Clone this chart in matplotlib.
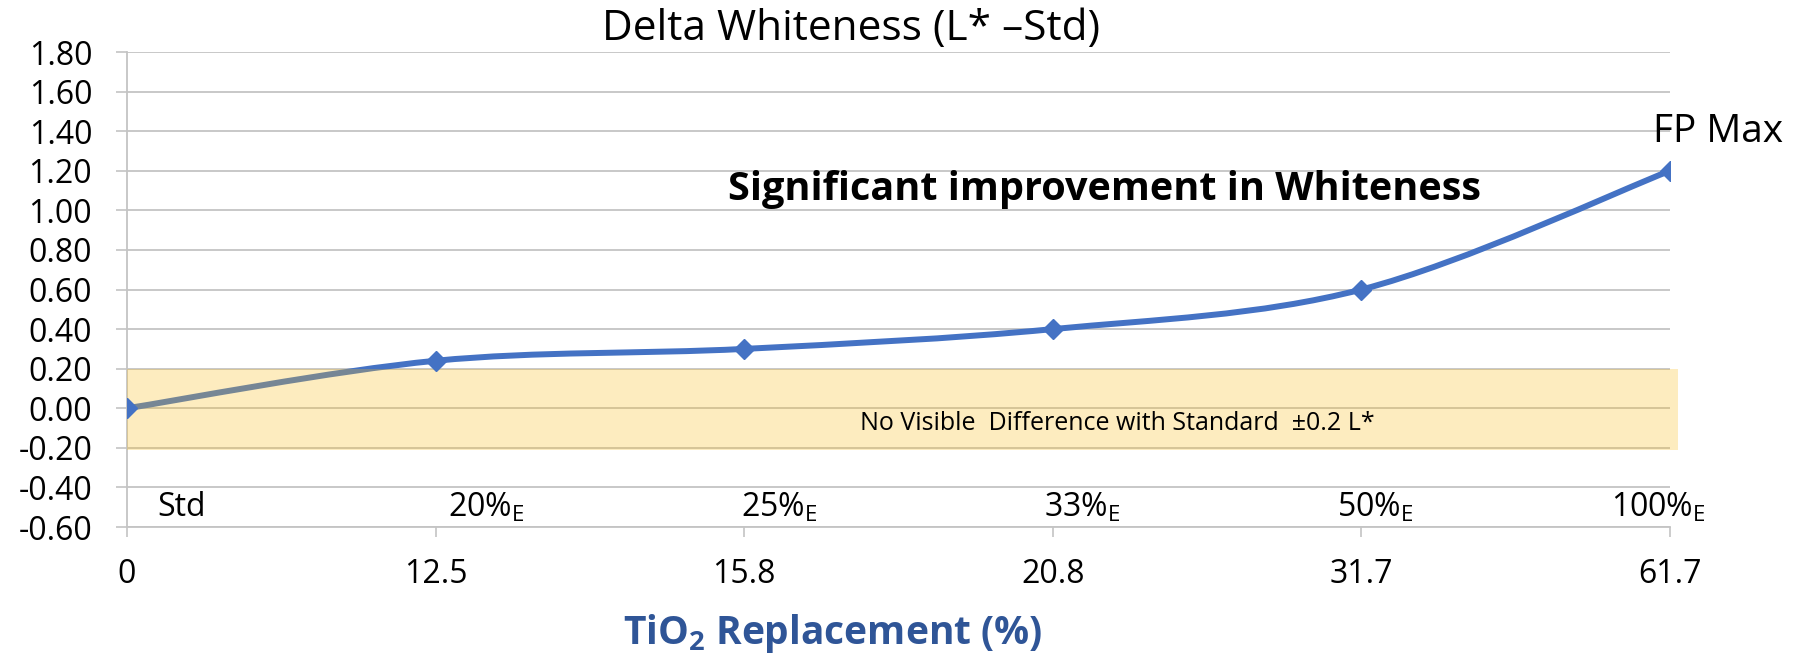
import numpy as np
import matplotlib.pyplot as plt
from matplotlib.path import Path
from matplotlib.patches import PathPatch, Rectangle

plt.rcParams['font.family'] = ['Open Sans', 'DejaVu Sans']
plt.rcParams['mathtext.fontset'] = 'custom'
plt.rcParams['mathtext.rm'] = 'Open Sans'
plt.rcParams['mathtext.bf'] = 'Open Sans:bold'

# ── Données ───────────────────────────────────────────────────────────────────
tio2_labels = ["0", "12.5", "15.8", "20.8", "31.7", "61.7"]
delta_l     = [0.00, 0.24, 0.30, 0.40, 0.60, 1.20]
grades      = ["Std", "20%", "25%", "33%", "50%", "100%"]
grade_x     = [0.10, 1.04, 1.99, 2.97, 3.92, 4.81]   # position du texte (catégories)
band_low, band_high = -0.21, 0.20
y_ticks     = np.arange(-0.60, 1.81, 0.20)

LINE_BLUE = "#4472C4"
GRID      = "#C4C4C4"

x_pos = np.arange(len(delta_l))

# ── Figure ────────────────────────────────────────────────────────────────────
fig = plt.figure(figsize=(18.08, 6.56), dpi=100)
ax = fig.add_axes([0.0702, 0.1966, 0.9237 - 0.0702, 0.9207 - 0.1966])

# courbe lissée (Bézier type Catmull-Rom, comme Excel)
pts = np.column_stack([x_pos, delta_l]).astype(float)
ext = np.vstack([pts[0], pts, pts[-1]])
verts, codes = [tuple(pts[0])], [Path.MOVETO]
for i in range(len(pts) - 1):
    p0, p1, p2, p3 = ext[i], ext[i + 1], ext[i + 2], ext[i + 3]
    c1 = p1 + (p2 - p0) / 6
    c2 = p2 - (p3 - p1) / 6
    verts += [tuple(c1), tuple(c2), tuple(p2)]
    codes += [Path.CURVE4] * 3
ax.add_patch(PathPatch(Path(verts, codes), fill=False, edgecolor=LINE_BLUE,
                       linewidth=4.3, capstyle="round", joinstyle="round", zorder=2))

# bande "pas de différence visible" (par-dessus la courbe, semi-transparente)
ax.add_patch(Rectangle((0, band_low), 5.025, band_high - band_low,
                       facecolor="#F9BC1C", alpha=0.28, edgecolor="none",
                       clip_on=False, zorder=3))

ax.plot(x_pos, delta_l, linestyle="none", marker="D", markersize=10.5,
        color=LINE_BLUE, zorder=4)

# ── Axes ──────────────────────────────────────────────────────────────────────
ax.set_xlim(0, 5)
ax.set_ylim(-0.60, 1.80)
ax.set_yticks(y_ticks)
ax.set_yticklabels([f"{v:.2f}" for v in y_ticks])
ax.set_xticks(x_pos)
ax.set_xticklabels(tio2_labels)
ax.tick_params(axis="y", length=8, width=1.2, color=GRID, pad=17, labelsize=23)
ax.tick_params(axis="x", length=7, width=1.2, color=GRID, pad=15, labelsize=23)
ax.grid(axis="y", color=GRID, linewidth=1.3)
ax.set_axisbelow(True)
for side in ["top", "right"]:
    ax.spines[side].set_visible(False)
ax.spines["left"].set_color(GRID)
ax.spines["left"].set_linewidth(1.3)
ax.spines["bottom"].set_color(GRID)
ax.spines["bottom"].set_linewidth(1.3)

# ── Textes ────────────────────────────────────────────────────────────────────
fig.text(0.4707, 0.939, "Delta Whiteness (L* \u2013Std)", ha="center", va="baseline",
         fontsize=30.5)
fig.text(0.4607, 0.035, r"TiO$_\mathbf{2}$ Replacement (%)", ha="center", va="center",
         fontsize=28, fontweight="bold", color="#2F5597")

ax.text(3.166, 1.103, "Significant improvement in Whiteness", ha="center", va="center",
        fontsize=28.5, fontweight="bold")
ax.text(4.945, 1.396, "FP Max", ha="left", va="center", fontsize=28, clip_on=False)
ax.text(3.21, -0.075, "No Visible  Difference with Standard  \u00b10.2 L*",
        ha="center", va="center", fontsize=18, zorder=5)

for gx, g in zip(grade_x, grades):
    label = g if g == "Std" else g + r"$_\mathregular{E}$"
    ax.text(gx, -0.545, label, ha="left", va="baseline", fontsize=23)

fig.savefig("out.png", dpi=100)
